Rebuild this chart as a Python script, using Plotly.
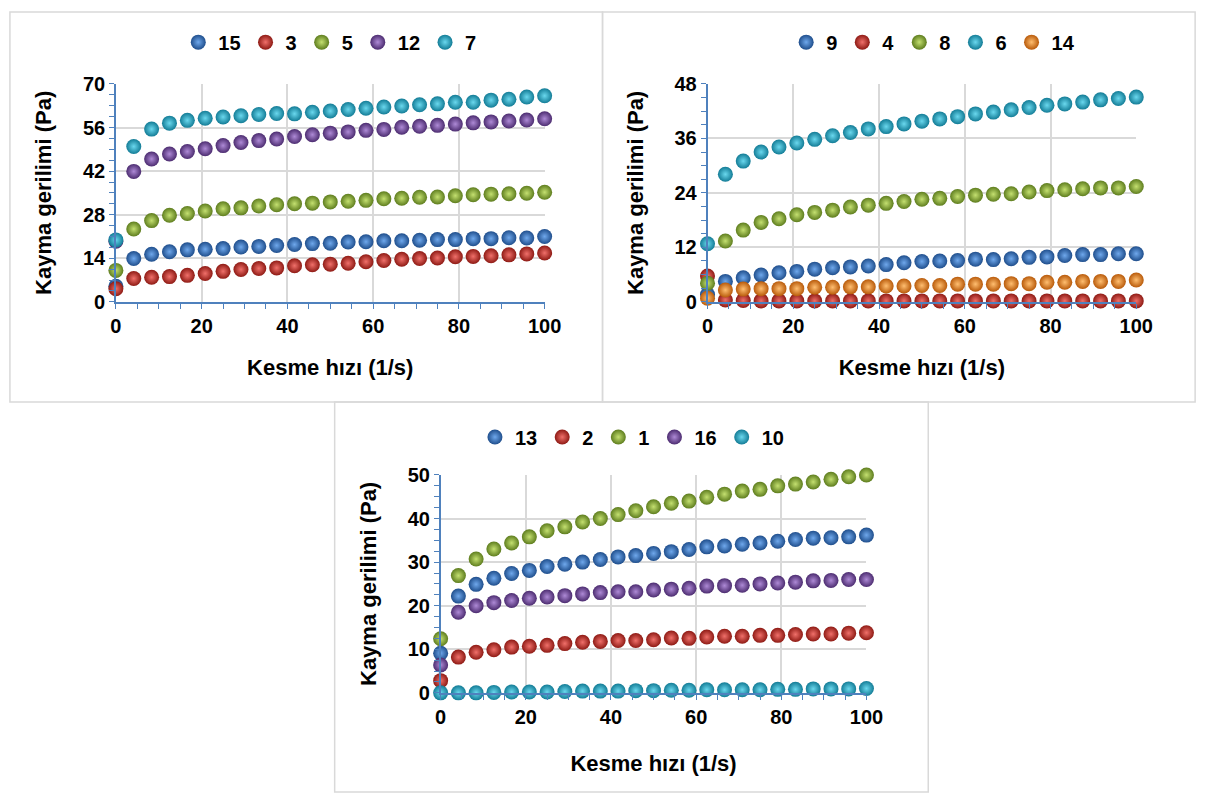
import plotly.graph_objects as go

# Shear rate (1/s): 25 equally spaced points 0..100
shear_rate = [round(i * 100 / 24, 2) for i in range(25)]

# ---- Panel 1 ----
p1_names = ["15", "3", "5", "12", "7"]
p1_s15 = [5.0, 13.9, 15.3, 16.1, 16.7, 16.9, 17.1, 17.6, 17.8, 18.1, 18.4, 18.7, 18.8,
          19.2, 19.3, 19.6, 19.6, 19.8, 20.0, 20.0, 20.3, 20.3, 20.6, 20.5, 21.0]
p1_s3 = [4.2, 7.5, 7.9, 8.1, 8.5, 9.1, 9.8, 10.4, 10.7, 10.9, 11.6, 11.9, 12.1,
         12.4, 12.9, 13.3, 13.7, 13.9, 14.1, 14.5, 14.6, 14.8, 15.1, 15.4, 15.7]
p1_s5 = [10.1, 23.4, 26.1, 27.8, 28.4, 29.2, 29.9, 30.2, 30.8, 31.2, 31.5, 31.7, 32.1,
         32.3, 32.6, 33.1, 33.3, 33.6, 33.7, 34.1, 34.4, 34.6, 34.7, 34.9, 35.2]
p1_s12 = [19.5, 41.9, 45.9, 47.5, 48.3, 49.2, 50.2, 51.2, 51.8, 52.3, 53.1, 53.7, 54.2,
          54.6, 55.1, 55.4, 56.1, 56.4, 56.7, 57.1, 57.5, 57.8, 58.1, 58.4, 58.8]
p1_s7 = [19.9, 49.9, 55.5, 57.4, 58.3, 59.0, 59.4, 59.8, 60.2, 60.5, 60.4, 60.9, 61.3,
         61.8, 62.2, 62.6, 62.9, 63.3, 63.6, 64.1, 64.1, 64.8, 65.1, 65.8, 66.2]
p1_ticks = [0, 14, 28, 42, 56, 70]

# ---- Panel 2 ----
p2_names = ["9", "4", "8", "6", "14"]
p2_s9 = [1.6, 4.5, 5.3, 5.9, 6.4, 6.7, 7.2, 7.5, 7.7, 7.9, 8.2, 8.6, 8.9,
         9.0, 9.1, 9.4, 9.3, 9.5, 9.8, 9.9, 10.2, 10.4, 10.4, 10.6, 10.6]
p2_s4 = [5.7, 0.4, 0.3, 0.2, 0.2, 0.2, 0.2, 0.2, 0.2, 0.2, 0.2, 0.2, 0.2,
         0.2, 0.2, 0.2, 0.2, 0.2, 0.2, 0.2, 0.2, 0.2, 0.2, 0.2, 0.2]
p2_s8 = [4.1, 13.4, 15.8, 17.5, 18.3, 19.2, 19.7, 20.2, 20.9, 21.3, 21.7, 22.1, 22.6,
         22.8, 23.2, 23.5, 23.7, 23.8, 24.2, 24.5, 24.7, 24.9, 25.1, 25.1, 25.4]
p2_s6 = [12.8, 28.1, 31.0, 33.0, 34.1, 35.0, 35.8, 36.6, 37.3, 38.1, 38.6, 39.2, 39.8,
         40.3, 40.8, 41.4, 41.8, 42.3, 42.8, 43.3, 43.6, 44.0, 44.5, 44.8, 45.1]
p2_s14 = [0.8, 2.6, 2.8, 2.9, 2.9, 2.9, 3.2, 3.2, 3.3, 3.3, 3.5, 3.5, 3.6,
          3.6, 3.9, 3.9, 3.9, 4.0, 4.0, 4.3, 4.3, 4.5, 4.5, 4.5, 4.8]
p2_ticks = [0, 12, 24, 36, 48]

# ---- Panel 3 ----
p3_names = ["13", "2", "1", "16", "10"]
p3_s13 = [9.1, 22.2, 24.9, 26.3, 27.4, 28.1, 29.0, 29.5, 30.0, 30.6, 31.2, 31.5, 32.0,
          32.4, 32.9, 33.5, 33.7, 34.1, 34.4, 34.8, 35.2, 35.5, 35.6, 35.8, 36.2]
p3_s2 = [2.8, 8.2, 9.3, 9.9, 10.5, 10.7, 10.9, 11.3, 11.6, 11.8, 12.0, 12.0, 12.2,
         12.6, 12.5, 12.8, 13.0, 13.0, 13.2, 13.2, 13.4, 13.5, 13.5, 13.7, 13.8]
p3_s1 = [12.4, 26.9, 30.7, 33.0, 34.4, 35.8, 37.2, 38.1, 39.2, 40.0, 40.9, 41.8, 42.7,
         43.5, 44.0, 44.9, 45.6, 46.3, 46.7, 47.5, 47.9, 48.4, 49.0, 49.6, 50.0]
p3_s16 = [6.4, 18.5, 20.0, 20.7, 21.2, 21.7, 22.0, 22.3, 22.7, 23.0, 23.2, 23.2, 23.6,
          23.8, 24.0, 24.5, 24.6, 24.7, 25.0, 25.2, 25.4, 25.7, 25.8, 26.0, 26.0]
p3_s10 = [0.0, 0.0, 0.0, 0.1, 0.2, 0.2, 0.2, 0.3, 0.4, 0.4, 0.4, 0.5, 0.5,
          0.6, 0.6, 0.7, 0.7, 0.7, 0.7, 0.8, 0.8, 0.9, 0.9, 0.9, 1.0]
p3_ticks = [0, 10, 20, 30, 40, 50]

x_ticks = [0, 20, 40, 60, 80, 100]
x_title = "Kesme hızı (1/s)"
y_title = "Kayma gerilimi (Pa)"

# sphere colours: (edge, centre highlight)
C_BLUE = ("#1F4E8C", "#6FA8EC")
C_RED = ("#8E1A14", "#F0706A")
C_GREEN = ("#5E7D1E", "#C4E070")
C_PURPLE = ("#4C2C70", "#AE8AD6")
C_CYAN = ("#137C96", "#6AD8EE")
C_ORANGE = ("#B85A0A", "#FFBE70")

FONT = "Liberation Sans, Arial, sans-serif"

fig = go.Figure()


def add(series, name, col, ax, leg):
    fig.add_trace(go.Scatter(
        x=shear_rate, y=series, name=name, mode="markers",
        xaxis="x" + ax, yaxis="y" + ax, legend=leg, cliponaxis=False,
        marker=dict(size=15, color=col[0], line=dict(width=0),
                    gradient=dict(type="radial", color=col[1]))
    ))


for s, n, c in zip([p1_s15, p1_s3, p1_s5, p1_s12, p1_s7], p1_names,
                   [C_BLUE, C_RED, C_GREEN, C_PURPLE, C_CYAN]):
    add(s, n, c, "", "legend")
for s, n, c in zip([p2_s9, p2_s4, p2_s8, p2_s6, p2_s14], p2_names,
                   [C_BLUE, C_RED, C_GREEN, C_CYAN, C_ORANGE]):
    add(s, n, c, "2", "legend2")
for s, n, c in zip([p3_s13, p3_s2, p3_s1, p3_s16, p3_s10], p3_names,
                   [C_BLUE, C_RED, C_GREEN, C_PURPLE, C_CYAN]):
    add(s, n, c, "3", "legend3")

W, H = 1219, 805
AXIS_BLUE = "#4F81BD"
GRID = "#D9D9D9"
tickfont = dict(family=FONT, size=20, color="#000000", weight="bold")
titlefont = dict(family=FONT, size=22, color="#000000", weight="bold")


def xax(dom, anchor, standoff):
    return dict(domain=dom, anchor=anchor, range=[0, 100], tickvals=x_ticks,
                showline=True, linecolor=AXIS_BLUE, linewidth=1.5,
                ticks="outside", ticklen=5, tickcolor=AXIS_BLUE, tickwidth=1,
                minor=dict(dtick=5, ticks="outside", ticklen=5, tickcolor=AXIS_BLUE,
                           showgrid=False),
                showgrid=True, gridcolor=GRID, gridwidth=1.5, zeroline=False,
                tickfont=tickfont,
                title=dict(text=x_title, font=titlefont, standoff=standoff))


def yax(dom, anchor, ticks, minor, standoff):
    return dict(domain=dom, anchor=anchor, range=[0, ticks[-1]], tickvals=ticks,
                showline=True, linecolor=AXIS_BLUE, linewidth=1.5,
                ticks="outside", ticklen=5, tickcolor=AXIS_BLUE, tickwidth=1,
                minor=dict(dtick=minor, ticks="outside", ticklen=5, tickcolor=AXIS_BLUE,
                           showgrid=False),
                showgrid=True, gridcolor=GRID, gridwidth=1.5, zeroline=False,
                tickfont=tickfont,
                title=dict(text=y_title, font=titlefont, standoff=standoff))


y_top = [1 - 299 / H, 1 - 75 / H]
y_bot = [1 - 701 / H, 1 - 477 / H]

legfont = dict(family=FONT, size=20, color="#000000", weight="bold")


def leg(xc, yc):
    return dict(orientation="h", x=xc, y=yc, xanchor="center", yanchor="middle",
                font=legfont, itemwidth=30, tracegroupgap=0, bgcolor="rgba(0,0,0,0)")


def box(x0, y0, x1, y1):
    return dict(type="rect", xref="paper", yref="paper", x0=x0 / W, x1=x1 / W,
                y0=1 - y1 / H, y1=1 - y0 / H, line=dict(color="#D9D9D9", width=1.5),
                layer="below")


fig.update_layout(
    width=W, height=H, margin=dict(l=0, r=0, t=0, b=0),
    paper_bgcolor="white", plot_bgcolor="white",
    font=dict(family=FONT),
    xaxis=xax([112 / W, 549 / W], "y", 24),
    yaxis=yax(y_top, "x", p1_ticks, 3.5, 25),
    xaxis2=xax([715 / W, 1152 / W], "y2", 24),
    yaxis2=yax(y_top, "x2", p2_ticks, 3, 25),
    xaxis3=xax([443 / W, 877 / W], "y3", 29),
    yaxis3=yax(y_bot, "x3", p3_ticks, 2.5, 25),
    legend=leg(330 / W, 1 - 32 / H),
    legend2=leg(945 / W, 1 - 32 / H),
    legend3=leg(638 / W, 1 - 438 / H),
    shapes=[box(4, 1, 608, 402), box(608, 1, 1212, 402), box(335, 402, 940, 803)],
    showlegend=True,
)

fig.write_html("out.html")
